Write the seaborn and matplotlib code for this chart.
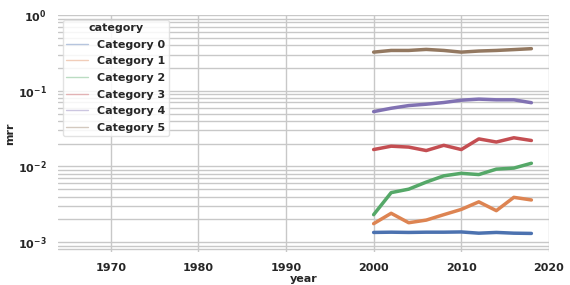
import numpy as np
import pandas as pd
import matplotlib
matplotlib.use("Agg")
import matplotlib.pyplot as plt
import seaborn as sns

years = [2000, 2002, 2004, 2006, 2008, 2010, 2012, 2014, 2016, 2018]
categories = ["Category 0", "Category 1", "Category 2", "Category 3", "Category 4", "Category 5"]
cat0 = [0.00134, 0.00135, 0.00134, 0.00135, 0.00135, 0.00136, 0.00131, 0.00134, 0.00131, 0.0013]
cat1 = [0.00175, 0.0024, 0.0018, 0.00195, 0.0023, 0.0027, 0.0034, 0.0026, 0.0039, 0.0036]
cat2 = [0.0023, 0.0045, 0.0050, 0.0062, 0.0075, 0.0081, 0.0078, 0.0092, 0.0095, 0.011]
cat3 = [0.0167, 0.0185, 0.018, 0.0162, 0.019, 0.0167, 0.0231, 0.021, 0.0239, 0.022]
cat4 = [0.053, 0.0587, 0.0637, 0.0664, 0.0699, 0.075, 0.0775, 0.0759, 0.0759, 0.0695]
cat5 = [0.324, 0.341, 0.341, 0.352, 0.341, 0.324, 0.335, 0.341, 0.35, 0.36]

rows = []
for name, vals in zip(categories, [cat0, cat1, cat2, cat3, cat4, cat5]):
    for yr, v in zip(years, vals):
        rows.append({"year": yr, "mrr": v, "category": name})
df = pd.DataFrame(rows)

sns.set_theme(style="whitegrid")
plt.rcParams["font.family"] = ["DejaVu Sans"]
plt.rcParams["font.weight"] = "bold"
plt.rcParams["axes.labelweight"] = "bold"

fig = plt.figure(figsize=(5.7, 2.85), dpi=100)
ax = fig.add_axes([0.102, 0.116, 0.861, 0.831])

sns.lineplot(data=df, x="year", y="mrr", hue="category", palette="deep",
             linewidth=2.5, ax=ax)

ax.set_yscale("log")
ax.set_ylim(0.00074, 1.0)
ax.set_xlim(1964, 2020)
ax.set_xticks([1970, 1980, 1990, 2000, 2010, 2020])
ax.grid(True, which="major", color="#c8c8c8", linewidth=1.0)
ax.grid(True, which="minor", axis="y", color="#c8c8c8", linewidth=1.0)
for s in ax.spines.values():
    s.set_visible(False)
ax.tick_params(axis="both", labelsize=8, pad=2)
ax.set_xlabel("year", fontsize=8, labelpad=1)
ax.set_ylabel("mrr", fontsize=8, labelpad=2)

leg = ax.legend(title="category", loc="upper left", fontsize=8, title_fontsize=8,
                frameon=True, facecolor="white", edgecolor="#dddddd", framealpha=0.85,
                borderpad=0.3, labelspacing=0.6, handlelength=2.0, handletextpad=0.8,
                borderaxespad=0.4)
leg.get_title().set_fontweight("bold")
for t in leg.get_texts():
    t.set_fontweight("bold")
for h in leg.get_lines():
    h.set_linewidth(1.0)
    h.set_alpha(0.4)

fig.savefig("out.png", dpi=100)
